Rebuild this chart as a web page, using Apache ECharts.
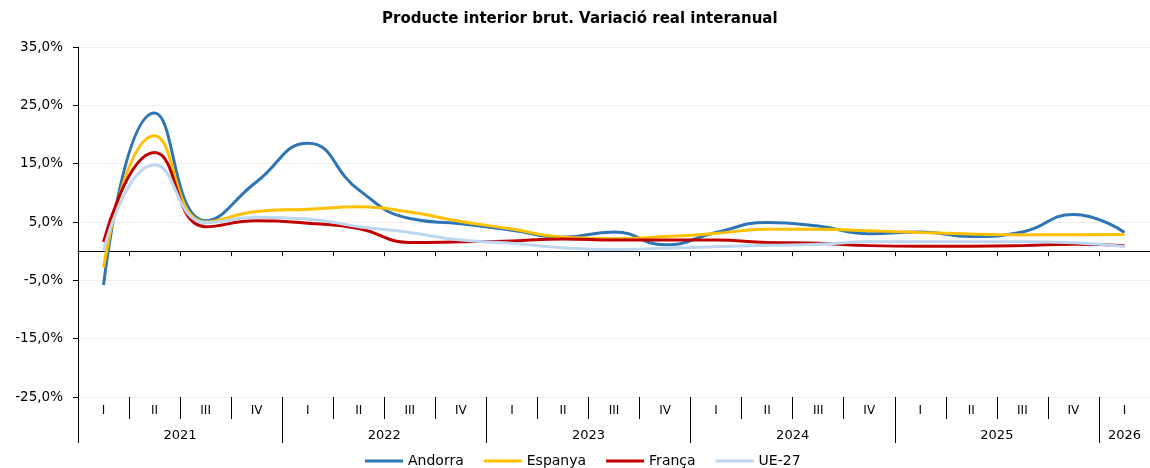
<!DOCTYPE html>
<html>
<head>
<meta charset="utf-8">
<script src="https://cdn.jsdelivr.net/npm/echarts@6/dist/echarts.min.js"></script>
<style>
  html, body { margin: 0; padding: 0; background: #fff; }
  #chart-container { width: 1150px; height: 468px; }
</style>
</head>
<body>
<div id="chart-container"></div>
<script>
// quarters on the axis, years below them
var quarters = ["I", "II", "III", "IV", "I", "II", "III", "IV", "I", "II", "III", "IV",
  "I", "II", "III", "IV", "I", "II", "III", "IV", "I"];
var years = ["2021", "2022", "2023", "2024", "2025", "2026"];
var quartersPerYear = [4, 4, 4, 4, 4, 1];

// % real year-on-year change
var andorra = [-5.8, 23.7, 5.2, 11.9, 18.5, 10.5, 5.6, 4.7, 3.6, 2.4, 3.3, 1.1,
  3.2, 4.9, 4.3, 3.0, 3.3, 2.5, 3.3, 6.3, 3.2];
var espanya = [-2.8, 19.8, 5.0, 6.8, 7.2, 7.6, 6.7, 5.1, 3.8, 2.4, 2.15, 2.5,
  3.05, 3.75, 3.75, 3.5, 3.2, 2.95, 2.8, 2.8, 2.85];
var franca = [1.6, 16.9, 4.2, 5.2, 4.8, 3.9, 1.5, 1.6, 1.75, 2.1, 1.9, 1.9,
  1.9, 1.5, 1.35, 0.95, 0.85, 0.85, 0.95, 1.2, 0.95];
var ue27 = [0.2, 14.8, 4.9, 5.8, 5.5, 4.2, 3.2, 1.9, 1.35, 0.6, 0.3, 0.5,
  0.75, 1.0, 1.2, 1.6, 1.6, 1.6, 1.6, 1.45, 0.8];

var yTicks = [-25, -15, -5, 5, 15, 25, 35];

// year axis: two slots per quarter, label in the middle of each year
var yearSlots = [];
var yearBounds = [];
years.forEach(function (y, i) {
  var n = quartersPerYear[i];
  yearBounds.push(yearSlots.length);
  for (var j = 0; j < 2 * n; j++) {
    yearSlots.push(j === n ? y : "");
  }
});
yearBounds.push(yearSlots.length);
yearSlots.push("");

var font = "'DejaVu Sans', 'Liberation Sans', Arial, sans-serif";

var dom = document.getElementById("chart-container");
var myChart = echarts.init(dom, null, { renderer: "canvas" });

var lineSeries = function (name, data, color) {
  return {
    name: name,
    type: "line",
    data: data,
    smooth: 0.5,
    symbol: "none",
    xAxisIndex: 0,
    yAxisIndex: 0,
    lineStyle: { color: color, width: 3 },
    itemStyle: { color: color },
  };
};

var option = {
  animation: false,
  title: {
    text: "Producte interior brut. Variació real interanual",
    left: 377,
    top: 7,
    textStyle: { fontFamily: font, fontSize: 15, fontWeight: "bold", color: "#000" },
  },
  legend: {
    data: ["Andorra", "Espanya", "França", "UE-27"],
    left: 365,
    top: 454,
    padding: 0,
    icon: "rect",
    itemWidth: 38,
    itemHeight: 3,
    itemGap: 20,
    textStyle: { fontFamily: font, fontSize: 14, color: "#000" },
  },
  grid: {
    left: 78,
    right: 0,
    top: 47,
    bottom: 71,
    containLabel: false,
    outerBoundsMode: "none",
  },
  yAxis: {
    type: "value",
    min: -25,
    max: 35,
    interval: 5,
    axisLine: { show: true, lineStyle: { color: "#000", width: 1 } },
    axisTick: { show: true, length: 5, customValues: yTicks, lineStyle: { color: "#000" } },
    axisLabel: {
      customValues: yTicks,
      margin: 15,
      fontFamily: font,
      fontSize: 13.5,
      color: "#000",
      formatter: function (v) {
        return v.toFixed(1).replace(".", ",") + "%";
      },
    },
    splitLine: { show: true, lineStyle: { color: "#efefef", width: 1 } },
  },
  xAxis: [
    {
      // line at 0% with small ticks
      type: "category",
      data: quarters,
      position: "bottom",
      axisLine: { onZero: true, lineStyle: { color: "#000", width: 1 } },
      axisTick: { show: true, length: 5, interval: 0, lineStyle: { color: "#000" } },
      axisLabel: { show: false },
      splitLine: { show: false },
    },
    {
      // quarter labels at the bottom
      type: "category",
      data: quarters,
      position: "bottom",
      axisLine: { show: false, onZero: false },
      axisTick: { show: true, length: 22, interval: 0, lineStyle: { color: "#000" } },
      axisLabel: { interval: 0, margin: 8, fontFamily: font, fontSize: 12, color: "#000" },
      splitLine: { show: false },
    },
    {
      // year labels and separators
      type: "category",
      data: yearSlots,
      boundaryGap: false,
      position: "bottom",
      axisLine: { show: false, onZero: false },
      axisTick: {
        show: true,
        length: 46,
        interval: function (idx) {
          return yearBounds.indexOf(idx) >= 0;
        },
        lineStyle: { color: "#000" },
      },
      axisLabel: { interval: 0, margin: 32, fontFamily: font, fontSize: 13, color: "#000" },
      splitLine: { show: false },
    },
  ],
  series: [
    lineSeries("Andorra", andorra, "#2E75B6"),
    lineSeries("Espanya", espanya, "#FFC000"),
    lineSeries("França", franca, "#C00000"),
    lineSeries("UE-27", ue27, "#BDD7EE"),
  ],
};

myChart.setOption(option);
window.addEventListener("resize", myChart.resize);
</script>
</body>
</html>
